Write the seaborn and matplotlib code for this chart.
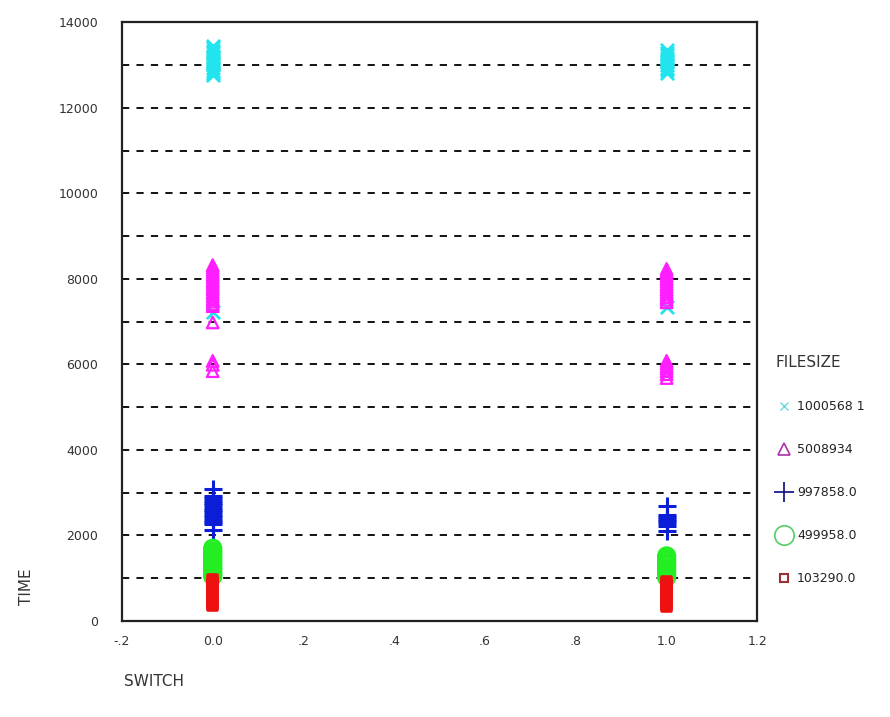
import pandas as pd
import matplotlib.pyplot as plt
import seaborn as sns
from matplotlib.lines import Line2D

# values (TIME at SWITCH = 0 and 1, per FILESIZE)
series_labels = ['1000568 1', '5008934', '997858.0', '499958.0', '103290.0']

cyan_sw0 = [13450, 13400, 13330, 13280, 13210, 13160, 13100, 13040, 12990, 12930, 12870, 12820, 12760, 7220]
cyan_sw1 = [13350, 13290, 13230, 13170, 13110, 13060, 13000, 12940, 12880, 12820, 7350]

magenta_sw0 = [8320, 8260, 8200, 8140, 8090, 8030, 7970, 7920, 7860, 7800, 7750, 7690, 7640,
               7580, 7520, 7470, 7410, 7360, 6980, 6080, 5990, 5840]
magenta_sw1 = [8230, 8170, 8110, 8050, 7990, 7930, 7870, 7810, 7750, 7690, 7630, 7570, 7510,
               7450, 6080, 6020, 5960, 5900, 5840, 5770, 5680]

blue_sw0 = [3080, 2920, 2870, 2810, 2760, 2700, 2650, 2590, 2540, 2480, 2430, 2370, 2320, 2260, 2120]
blue_sw1 = [2680, 2480, 2430, 2380, 2330, 2280, 2230, 2110]

green_sw0 = [1700, 1640, 1590, 1530, 1480, 1420, 1370, 1310, 1260, 1200, 1150, 1090, 1040]
green_sw1 = [1520, 1460, 1410, 1350, 1300, 1240, 1190, 1130, 1080, 1020]

red_sw0 = [960, 910, 860, 810, 760, 710, 660, 610, 560, 510, 460, 410, 360]
red_sw1 = [930, 880, 830, 780, 730, 680, 630, 580, 530, 480, 430, 380, 330]

plot_colors = ['#22e4ee', '#ff1eff', '#0a1ed8', '#22ee22', '#ee1111']
legend_colors = ['#66dddd', '#aa33aa', '#1a1a8c', '#55cc66', '#993333']

groups = [(cyan_sw0, cyan_sw1), (magenta_sw0, magenta_sw1), (blue_sw0, blue_sw1),
          (green_sw0, green_sw1), (red_sw0, red_sw1)]

rows = []
for label, (sw0, sw1) in zip(series_labels, groups):
    rows += [(label, 0.0, t) for t in sw0]
    rows += [(label, 1.0, t) for t in sw1]
df = pd.DataFrame(rows, columns=['FILESIZE', 'SWITCH', 'TIME'])

sns.set_style('white')
plt.rcParams['font.family'] = ['DejaVu Sans']

fig = plt.figure(figsize=(8.9, 7.17), dpi=100)
ax = fig.add_axes([0.137, 0.134, 0.714, 0.835])

# marker styles: (marker, size, open?, linewidth)
styles = [('x', 90, False, 2.0), ('^', 70, True, 1.6), ('+', 160, False, 2.2),
          ('o', 140, True, 2.0), ('s', 40, True, 2.6)]

for label, color, (mk, s, open_mk, lw) in zip(series_labels, plot_colors, styles):
    sub = df[df['FILESIZE'] == label]
    if open_mk:
        sns.scatterplot(data=sub, x='SWITCH', y='TIME', ax=ax, marker=mk, s=s,
                        facecolor='none', edgecolor=color, linewidth=lw, legend=False)
    else:
        sns.scatterplot(data=sub, x='SWITCH', y='TIME', ax=ax, marker=mk, s=s,
                        color=color, linewidth=lw, legend=False)

ax.set_xlim(-0.2, 1.2)
ax.set_ylim(0, 14000)
xt = [-0.2, 0.0, 0.2, 0.4, 0.6, 0.8, 1.0, 1.2]
ax.set_xticks(xt)
ax.set_xticklabels(['-.2', '0.0', '.2', '.4', '.6', '.8', '1.0', '1.2'])
ax.set_yticks(range(0, 14001, 2000))
ax.set_yticks(range(1000, 14000, 1000), minor=True)
ax.grid(True, axis='y', which='both', color='black', linestyle=(0, (4, 4)), linewidth=1.3)
ax.set_axisbelow(True)

for sp in ax.spines.values():
    sp.set_color('#222222')
    sp.set_linewidth(1.6)

ax.tick_params(axis='x', direction='out', length=4, width=4, color='black',
               labelsize=9, pad=6, labelcolor='#333333')
ax.tick_params(axis='y', which='major', length=0, labelsize=9, pad=17, labelcolor='#333333')
ax.tick_params(axis='y', which='minor', length=0)

ax.set_xlabel('SWITCH', fontsize=11, color='#333333')
ax.set_ylabel('TIME', fontsize=11, color='#333333')
ax.xaxis.set_label_coords(0.05, -0.088)
ax.yaxis.set_label_coords(-0.138, 0.058)

handles = [
    Line2D([], [], linestyle='none', marker='x', markersize=6, markeredgewidth=1,
           color=legend_colors[0]),
    Line2D([], [], linestyle='none', marker='^', markersize=8, markeredgewidth=1.2,
           markerfacecolor='none', markeredgecolor=legend_colors[1]),
    Line2D([], [], linestyle='none', marker='+', markersize=14, markeredgewidth=1.3,
           color=legend_colors[2]),
    Line2D([], [], linestyle='none', marker='o', markersize=14, markeredgewidth=1.2,
           markerfacecolor='none', markeredgecolor=legend_colors[3]),
    Line2D([], [], linestyle='none', marker='s', markersize=6, markeredgewidth=1.5,
           markerfacecolor='none', markeredgecolor=legend_colors[4]),
]
leg = ax.legend(handles, series_labels, title='FILESIZE', loc='upper left',
                bbox_to_anchor=(1.017, 0.457), frameon=False, fontsize=9,
                title_fontsize=11, labelspacing=2.4, handletextpad=0.3,
                handlelength=1.4, borderaxespad=0.2)
leg._legend_box.align = 'left'
leg._legend_box.sep = 22
for t in leg.get_texts():
    t.set_color('#222222')
leg.get_title().set_color('#333333')

fig.savefig('out.png', dpi=100)
